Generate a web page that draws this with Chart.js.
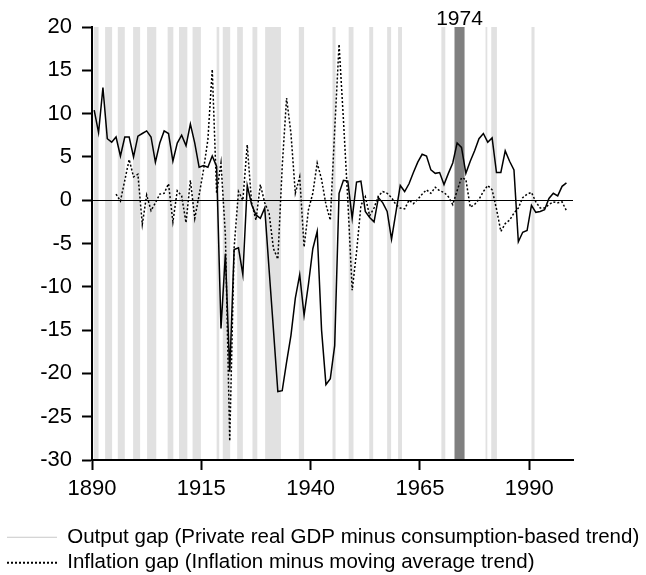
<!DOCTYPE html>
<html>
<head>
<meta charset="utf-8">
<script src="https://cdn.jsdelivr.net/npm/chart.js@4.4.0/dist/chart.umd.min.js"></script>
<style>
	html, body { margin: 0; padding: 0; background: #fff; }
	canvas { display: block; }
</style>
</head>
<body>
<canvas id="myChart" width="646" height="575"></canvas>
<script>
// years of the annual series
const years = [
	1890, 1891, 1892, 1893, 1894, 1895, 1896, 1897, 1898, 1899,
	1900, 1901, 1902, 1903, 1904, 1905, 1906, 1907, 1908, 1909,
	1910, 1911, 1912, 1913, 1914, 1915, 1916, 1917, 1918, 1919,
	1920, 1921, 1922, 1923, 1924, 1925, 1926, 1927, 1928, 1929,
	1930, 1931, 1932, 1933, 1934, 1935, 1936, 1937, 1938, 1939,
	1940, 1941, 1942, 1943, 1944, 1945, 1946, 1947, 1948, 1949,
	1950, 1951, 1952, 1953, 1954, 1955, 1956, 1957, 1958, 1959,
	1960, 1961, 1962, 1963, 1964, 1965, 1966, 1967, 1968, 1969,
	1970, 1971, 1972, 1973, 1974, 1975, 1976, 1977, 1978, 1979,
	1980, 1981, 1982, 1983, 1984, 1985, 1986, 1987, 1988, 1989,
	1990, 1991, 1992, 1993, 1994, 1995, 1996, 1997, 1998,
]

// output gap (solid line)
const outputGap = [
	10.4, 7.8, 13.0, 7.1, 6.7, 7.3, 5.1, 7.3, 7.3, 5.0,
	7.4, 7.7, 8.0, 7.3, 4.4, 6.6, 8.0, 7.7, 4.5, 6.6,
	7.5, 6.3, 8.8, 6.6, 3.8, 4.0, 3.8, 5.1, 3.9, -14.8,
	-6.2, -19.8, -5.7, -5.5, -8.6, 1.7, -0.5, -1.7, -2.1, -0.9,
	-8.0, -15.0, -22.1, -22.0, -18.7, -15.6, -11.3, -8.6, -13.3, -9.7,
	-5.6, -3.6, -15.0, -21.3, -20.6, -16.8, 0.8, 2.3, 2.2, -2.1,
	2.1, 2.2, -1.3, -2.0, -2.5, 0.3, -0.3, -1.3, -4.5, -1.4,
	1.7, 1.0, 1.9, 3.2, 4.4, 5.3, 5.1, 3.5, 3.1, 3.2,
	1.8, 3.1, 4.3, 6.6, 6.1, 3.1, 4.5, 5.7, 7.1, 7.7,
	6.7, 7.2, 3.2, 3.2, 5.7, 4.5, 3.5, -4.8, -3.7, -3.5,
	-0.6, -1.4, -1.3, -1.1, 0.2, 0.8, 0.5, 1.6, 2.0,
]

// inflation gap (dotted line), starts in 1895
const inflationGap = [
	null, null, null, null, null, 0.7, -0.1, 2.3, 4.7, 2.7,
	3.0, -2.8, 0.6, -1.2, -0.3, 0.7, 0.8, 1.9, -2.5, 1.1,
	0.5, -2.6, 2.3, -2.1, 0.6, 3.5, 7.0, 15.1, 0.8, 4.3,
	-4.0, -27.8, -5.5, 1.0, 0.0, 6.4, -0.3, -2.3, 1.8, -0.3,
	-1.5, -5.6, -6.8, 3.9, 11.8, 7.7, 0.8, 2.7, -5.4, -1.1,
	0.8, 4.3, 2.4, -0.5, -2.3, 8.1, 18.0, 9.3, 0.0, -10.4,
	-6.0, -0.6, 0.4, -1.8, -0.9, 0.5, 1.0, 0.8, 0.3, -0.5,
	-0.9, -1.0, 0.0, -0.4, 0.1, 0.7, 1.2, 0.8, 1.5, 1.1,
	0.9, 0.4, -0.5, 1.1, 2.6, 2.4, -0.8, -0.5, 0.1, 1.0,
	1.7, 1.2, -1.0, -3.6, -2.7, -2.3, -1.5, -0.9, 0.3, 0.7,
	0.9, -0.2, -0.9, -0.9, -0.5, -0.2, -0.3, -0.2, -1.2,
]

// recession periods (light grey bands)
const recessions = [
	[1890.4, 1891.5], [1893.0, 1894.6], [1895.9, 1897.5], [1899.4, 1901.0],
	[1902.6, 1904.7], [1907.3, 1908.6], [1909.9, 1911.8], [1913.0, 1914.9],
	[1918.5, 1919.1], [1919.9, 1921.6], [1923.2, 1924.5], [1926.7, 1927.8],
	[1929.6, 1933.2], [1937.3, 1938.5], [1945.0, 1945.7], [1948.7, 1949.8],
	[1953.4, 1954.3], [1957.5, 1958.4], [1960.0, 1960.9], [1969.9, 1970.8],
	[1980.0, 1980.4], [1981.3, 1982.6], [1990.5, 1991.2],
]
// highlighted episode (dark band)
const highlight = [1972.9, 1975.2]
const highlightLabel = "1974"

const xTicks = [1890, 1915, 1940, 1965, 1990]
const labels = [
	"Output gap (Private real GDP minus consumption-based trend)",
	"Inflation gap (Inflation minus moving average trend)",
]

const font = "'Liberation Sans', Arial, sans-serif"

// bands behind everything
const bandPlugin = {
	id: "bands",
	beforeDraw: chart => {
		const ctx = chart.ctx
		const { top, bottom } = chart.chartArea
		const x = chart.scales.x
		ctx.save()
		ctx.fillStyle = "#e1e1e1"
		recessions.forEach(([a, b]) => {
			const x0 = x.getPixelForValue(a)
			const x1 = x.getPixelForValue(b)
			ctx.fillRect(x0, top, x1 - x0, bottom - top)
		})
		const h0 = x.getPixelForValue(highlight[0])
		const h1 = x.getPixelForValue(highlight[1])
		ctx.fillStyle = "#808080"
		ctx.fillRect(h0, top, h1 - h0, bottom - top)
		ctx.fillStyle = "#000"
		ctx.font = "21px " + font
		ctx.textAlign = "center"
		ctx.textBaseline = "alphabetic"
		ctx.fillText(highlightLabel, (h0 + h1) / 2, top - 2)
		ctx.restore()
	},
}

const chart = document.querySelector("#myChart").getContext("2d")

const myChart = new Chart(chart, {
	type: "line",
	data: {
		datasets: [
			{
				label: labels[0],
				data: years.map((y, i) => ({ x: y + 0.5, y: outputGap[i] })),
				borderColor: "#000",
				borderWidth: 1.5,
				pointRadius: 0,
				tension: 0,
			},
			{
				label: labels[1],
				data: years.map((y, i) => ({ x: y + 0.5, y: inflationGap[i] })),
				borderColor: "#000",
				borderWidth: 1.5,
				borderDash: [2, 2],
				pointRadius: 0,
				tension: 0,
			},
		],
	},
	options: {
		responsive: false,
		animation: false,
		devicePixelRatio: 1,
		layout: { padding: { top: 27, right: 0, left: 2, bottom: 0 } },
		scales: {
			x: {
				type: "linear",
				min: 1890,
				max: 2000,
				afterBuildTicks: scale => {
					scale.ticks = xTicks.map(v => ({ value: v }))
				},
				afterFit: scale => {
					scale.height = 62
				},
				ticks: {
					color: "#000",
					font: { family: font, size: 22 },
					padding: 6,
					maxRotation: 0,
					callback: v => String(v),
				},
				grid: {
					drawOnChartArea: false,
					tickLength: 10,
					tickColor: "#000",
					tickWidth: 2,
				},
				border: { color: "#000", width: 2 },
			},
			y: {
				min: -30,
				max: 20,
				afterFit: scale => {
					scale.width = 90
				},
				ticks: {
					stepSize: 5,
					color: "#000",
					font: { family: font, size: 22 },
					padding: 10,
				},
				grid: {
					color: c => (c.tick && c.tick.value === 0 ? "#000" : "transparent"),
					lineWidth: 1,
					tickLength: 10,
					tickColor: "#000",
					tickWidth: 2,
				},
				border: { color: "#000", width: 2 },
			},
			// empty right margin
			spacer: {
				type: "linear",
				position: "right",
				afterFit: scale => {
					scale.width = 73
				},
				ticks: { display: false },
				grid: { display: false },
				border: { display: false },
			},
		},
		plugins: {
			tooltip: { enabled: false },
			legend: {
				position: "bottom",
				align: "start",
				maxHeight: 53,
				labels: {
					color: "#000",
					font: { family: font, size: 20.5 },
					padding: 5,
					usePointStyle: true,
					pointStyleWidth: 50,
					generateLabels: chart =>
						chart.data.datasets.map((ds, i) => ({
							text: ds.label,
							datasetIndex: i,
							pointStyle: "line",
							fillStyle: "transparent",
							strokeStyle: i === 0 ? "#c8c8c8" : "#000",
							lineWidth: i === 0 ? 1 : 2,
							lineDash: i === 0 ? [] : [2, 2],
							hidden: false,
						})),
				},
			},
		},
	},
	plugins: [bandPlugin],
})
</script>
</body>
</html>
